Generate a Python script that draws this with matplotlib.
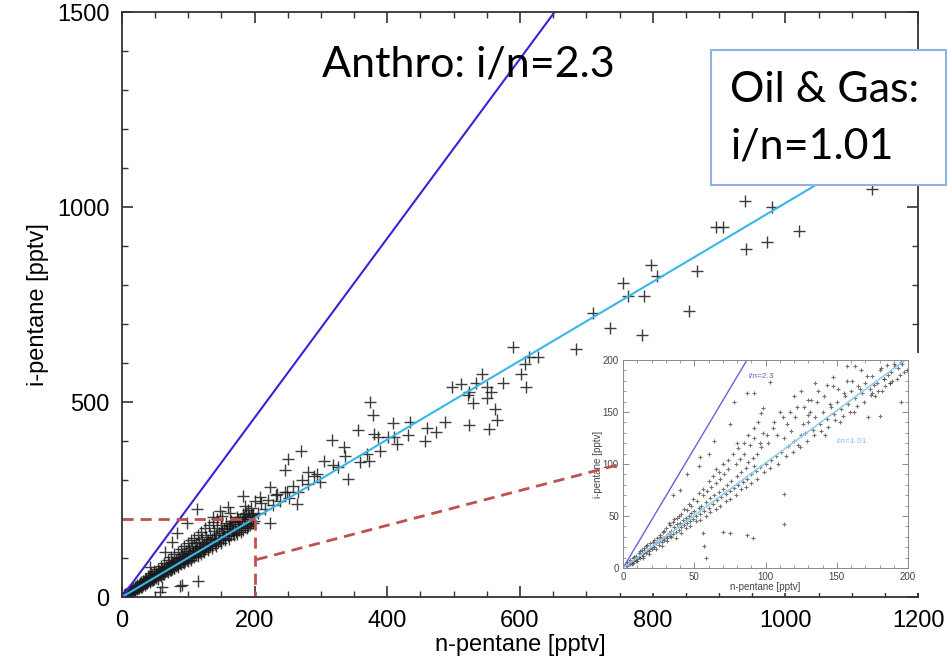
import matplotlib.pyplot as plt
from matplotlib.patches import Rectangle
from matplotlib.lines import Line2D
from matplotlib.ticker import MultipleLocator

# n-pentane / i-pentane mixing ratios [pptv]
n_pentane = [
    3, 5, 6, 8, 9, 10, 12, 13, 14, 15, 16, 18, 19, 20, 21, 22, 24, 25, 26, 27,
    28, 30, 31, 32, 33, 35, 36, 37, 38, 40, 41, 42, 43, 45, 46, 47, 48, 50, 51, 52,
    53, 55, 56, 57, 58, 60, 61, 62, 63, 65, 66, 67, 68, 70, 71, 72, 73, 75, 76, 77,
    78, 80, 81, 82, 83, 85, 86, 87, 88, 90, 91, 92, 93, 95, 96, 97, 98, 100, 101, 102,
    103, 105, 106, 107, 108, 110, 111, 112, 113, 115, 116, 117, 118, 120, 121, 122, 124, 125, 126, 128,
    129, 130, 132, 133, 135, 136, 138, 139, 140, 142, 143, 145, 146, 148, 150, 151, 152, 154, 155, 157,
    158, 160, 162, 164, 165, 167, 168, 170, 172, 174, 175, 177, 178, 180, 182, 184, 185, 187, 189, 190,
    192, 194, 195, 197, 199,
    4, 6, 7, 9, 11, 12, 14, 16, 17, 19, 21, 23, 23, 26, 27, 29, 30, 32, 34, 34,
    36, 39, 39, 42, 44, 44, 47, 49, 49, 52, 54, 54, 57, 59, 59, 62, 64, 64, 67, 69,
    69, 72, 74, 74, 77, 79, 79, 82, 84, 84, 86, 89, 89, 92, 94, 94, 97, 99, 99, 102,
    104, 104, 107, 109, 109, 112, 114, 114, 117, 119, 119, 122, 124, 125, 127, 129, 131, 133, 135, 137,
    140, 142, 144, 146, 149, 151, 153, 156, 159, 161, 163, 166, 169, 171, 173, 176, 179, 181, 183, 186,
    188, 191, 193, 196, 198,
    115, 87, 57, 90, 60, 98, 75, 83, 65, 42, 113, 137, 148, 160, 175, 190, 163, 182, 185, 200,
    208, 223, 234, 249, 223, 205, 210, 215, 220, 228, 232, 238, 245, 252, 258, 264, 271, 265, 280, 290,
    246, 250, 270, 294, 299, 280, 304, 316, 318, 326, 335, 336, 341, 359, 369, 374, 389, 380, 356, 372,
    378, 386, 401, 409, 414, 434, 431, 457, 410, 460, 474, 487, 498, 511, 523, 521, 534, 543, 551, 557,
    551, 529, 563, 566, 554, 523, 575, 589, 602, 609, 607, 614, 627, 684, 710, 736, 755, 763, 787, 784,
    798, 807, 855, 867, 896, 906, 939, 941, 973, 1020, 1131, 980,
]
i_pentane = [
    4, 6, 9, 7, 12, 10, 15, 11, 18, 14, 20, 17, 25, 19, 23, 28, 22, 30, 27, 35,
    26, 33, 40, 30, 37, 34, 45, 39, 36, 44, 52, 40, 48, 43, 57, 50, 46, 55, 62, 49,
    58, 53, 66, 61, 56, 65, 72, 59, 69, 63, 78, 71, 66, 76, 85, 69, 80, 73, 90, 82,
    75, 87, 96, 79, 91, 83, 101, 94, 86, 98, 110, 89, 103, 93, 118, 106, 95, 108, 125, 99,
    113, 103, 130, 117, 105, 120, 138, 108, 126, 112, 140, 128, 115, 131, 150, 118, 136, 122, 155, 140,
    125, 145, 160, 130, 150, 133, 170, 152, 137, 158, 178, 142, 165, 145, 185, 170, 149, 175, 152, 190,
    178, 157, 182, 160, 196, 186, 165, 192, 168, 205, 195, 172, 200, 176, 212, 205, 180, 215, 186, 222,
    208, 190, 228, 214, 195,
    7, 5, 11, 9, 13, 18, 13, 17, 24, 16, 26, 21, 31, 24, 29, 38, 27, 36, 31, 46,
    35, 41, 55, 38, 47, 62, 43, 52, 68, 53, 47, 72, 64, 54, 80, 66, 60, 88, 76, 64,
    95, 78, 70, 102, 86, 74, 110, 90, 78, 115, 92, 84, 122, 100, 88, 132, 104, 92, 138, 112,
    96, 145, 114, 102, 152, 118, 106, 160, 122, 110, 168, 127, 115, 176, 132, 120, 185, 138, 125, 192,
    146, 132, 200, 152, 138, 208, 160, 146, 168, 150, 215, 175, 158, 182, 162, 188, 168, 196, 172, 200,
    178, 205, 184, 210, 190,
    41, 28, 13, 31, 26, 191, 140, 165, 116, 78, 225, 204, 220, 230, 199, 181, 181, 259, 233, 246,
    256, 282, 264, 269, 191, 215, 240, 225, 250, 236, 262, 245, 270, 255, 284, 238, 300, 270, 290, 310,
    326, 354, 375, 315, 295, 320, 349, 403, 339, 334, 385, 362, 302, 346, 367, 499, 375, 419, 429, 349,
    468, 411, 411, 447, 393, 450, 416, 401, 411, 434, 422, 450, 538, 545, 525, 519, 548, 571, 538, 525,
    510, 497, 481, 453, 432, 442, 550, 641, 571, 538, 597, 615, 615, 636, 729, 690, 804, 773, 773, 672,
    852, 822, 734, 835, 949, 949, 1016, 892, 910, 939, 1047, 1000,
]

# zoomed view of the 0-200 pptv range
inset_n = [
    2, 3, 4, 5, 5, 6, 7, 7, 8, 9, 9, 10, 11, 11, 12, 13, 13, 14, 15, 15,
    16, 17, 17, 18, 19, 19, 20, 21, 22, 22, 23, 24, 25, 25, 26, 27, 28, 28, 29, 30,
    30, 31, 32, 33, 33, 34, 35, 35, 36, 37, 38, 38, 39, 40, 41, 41, 42, 43, 44, 45,
    45, 46, 47, 48, 48, 49, 50, 51, 52, 53, 54, 55, 56, 57, 58, 59, 60, 61, 62, 63,
    64, 65, 66, 67, 68, 69, 70, 71, 72, 73, 74, 75, 76, 78, 79, 80, 81, 82, 83, 84,
    85, 86, 87, 88, 89, 90, 91, 92, 93, 94, 95, 96, 97, 98, 100, 102, 104, 105, 107, 108,
    110, 111, 113, 115, 116, 118, 120, 121, 123, 125, 127, 128, 130, 132, 133, 135, 137, 138, 140, 142,
    143, 145, 147, 148, 150, 152, 153, 155, 157, 158, 160, 162, 163, 165, 167, 168, 170, 172, 173, 175,
    177, 178, 180, 182, 183, 185, 187, 188, 190, 192, 193, 195, 197,
    3, 6, 8, 10, 12, 14, 16, 18, 21, 23, 26, 27, 29, 31, 32, 34, 36, 37, 39, 41,
    43, 44, 46, 47, 49, 51, 53, 54, 56, 58, 60, 61, 63, 65, 67, 68, 70, 72, 74, 75,
    77, 79, 81, 83, 85, 86, 88, 90, 92, 94, 96, 99, 101, 103, 106, 109, 112, 114, 117, 119,
    122, 124, 126, 129, 131, 134, 136, 139, 141, 144, 146, 149, 151, 154, 156, 159, 161, 164, 166, 169,
    171, 174, 176, 179, 181, 184, 186, 189, 191, 194, 196, 199,
    157, 163, 103, 87, 92, 78, 75, 98, 97, 64, 54, 53, 92, 113, 87, 91, 70, 75, 56, 57,
    58, 113, 180, 175, 187, 183, 147, 143, 130, 130, 60, 45, 40, 35, 65, 80, 120, 125, 135, 195,
]
inset_i = [
    3, 2, 5, 4, 8, 6, 5, 10, 8, 7, 12, 9, 11, 14, 10, 13, 17, 12, 15, 19,
    14, 17, 22, 16, 19, 24, 18, 21, 27, 20, 24, 29, 22, 26, 32, 25, 29, 35, 27, 31,
    38, 29, 34, 41, 31, 36, 33, 44, 39, 35, 42, 48, 37, 43, 39, 52, 46, 41, 48, 56,
    43, 50, 45, 53, 60, 47, 55, 50, 64, 58, 52, 60, 70, 55, 63, 74, 58, 67, 78, 62,
    70, 82, 65, 73, 86, 68, 76, 90, 71, 80, 95, 74, 84, 77, 100, 88, 80, 105, 92, 83,
    110, 96, 86, 102, 118, 90, 106, 125, 93, 110, 140, 97, 116, 130, 100, 120, 104, 135, 108, 128,
    150, 112, 125, 138, 117, 132, 122, 145, 118, 128, 155, 130, 140, 162, 133, 145, 170, 138, 150, 128,
    143, 158, 175, 148, 160, 140, 153, 168, 180, 158, 170, 150, 163, 175, 190, 168, 178, 145, 172, 185,
    165, 178, 190, 170, 182, 195, 178, 188, 196, 182, 192, 198, 188,
    6, 4, 11, 7, 16, 10, 21, 13, 25, 18, 30, 21, 36, 26, 43, 30, 47, 29, 50, 34,
    57, 38, 62, 40, 66, 45, 72, 46, 76, 50, 84, 54, 88, 57, 92, 60, 100, 64, 104, 66,
    110, 70, 115, 76, 120, 78, 128, 82, 135, 86, 120, 92, 128, 96, 140, 100, 145, 108, 150, 112,
    155, 116, 138, 122, 150, 128, 160, 132, 165, 136, 155, 142, 172, 146, 165, 150, 180, 156, 172, 160,
    185, 166, 176, 170, 192, 175, 186, 180, 194, 186, 196, 190,
    194, 194, 179, 168, 168, 160, 138, 154, 149, 122, 107, 98, 98, 71, 32, 29, 35, 34, 34, 21,
    10, 42, 146, 168, 178, 182, 184, 176, 162, 147, 110, 90, 75, 70, 95, 120, 165, 170, 178, 160,
]

anthro_ratio = 2.3
oil_gas_ratio = 1.01

plt.rcParams['font.family'] = ['Liberation Sans', 'DejaVu Sans']

fig = plt.figure(figsize=(9.47, 6.63), dpi=100)
ax = fig.add_axes([0.1288, 0.0995, 0.8406, 0.8824])

ax.plot(n_pentane, i_pentane, linestyle='none', marker='+', ms=9, mew=1.0,
        color='#1a1a1a', alpha=0.85)
xl = [0, 1200]
ax.plot(xl, [anthro_ratio * v for v in xl], color='#3d1fdc', lw=1.5)
ax.plot(xl, [oil_gas_ratio * v for v in xl], color='#38b6ec', lw=1.5)

# dashed box around the zoomed region
red = '#c0504d'
ax.plot([0, 200], [200, 200], color=red, lw=2, ls=(0, (4, 2.5)))
ax.plot([200, 200], [200, 0], color=red, lw=2, ls=(0, (4, 2.5)))

ax.set_xlim(0, 1200)
ax.set_ylim(0, 1500)
ax.xaxis.set_major_locator(MultipleLocator(200))
ax.xaxis.set_minor_locator(MultipleLocator(50))
ax.yaxis.set_major_locator(MultipleLocator(500))
ax.yaxis.set_minor_locator(MultipleLocator(100))
ax.tick_params(which='both', direction='in', top=True, right=True,
               color='#333333', labelsize=17, pad=9)
ax.tick_params(which='major', length=8, width=1.2)
ax.tick_params(which='minor', length=4, width=1.0)
for s in ax.spines.values():
    s.set_color('#333333')
    s.set_linewidth(1.3)
ax.set_xlabel('n-pentane [pptv]', fontsize=17, labelpad=2)
ax.set_ylabel('i-pentane [pptv]', fontsize=17, labelpad=6)

# white panel behind the inset
fig.add_artist(Rectangle((0.629, 0.105), 0.371, 0.363, transform=fig.transFigure,
                         facecolor='white', edgecolor='none', zorder=1))

axin = fig.add_axes([0.6579, 0.1433, 0.301, 0.3137], zorder=2)
axin.plot(inset_n, inset_i, linestyle='none', marker='+', ms=3.5, mew=0.8,
          color='#444444', alpha=0.75)
xi = [0, 200]
axin.plot(xi, [anthro_ratio * v for v in xi], color='#6f5fd6', lw=1.0)
axin.plot(xi, [oil_gas_ratio * v for v in xi], color='#8fd0f0', lw=1.2)
axin.text(88, 183, 'i/n=2.3', color='#6a5acd', fontsize=6)
axin.text(150, 120, 'i/n=1.01', color='#7cc8ee', fontsize=6)
axin.set_xlim(0, 200)
axin.set_ylim(0, 200)
axin.xaxis.set_major_locator(MultipleLocator(50))
axin.xaxis.set_minor_locator(MultipleLocator(10))
axin.yaxis.set_major_locator(MultipleLocator(50))
axin.yaxis.set_minor_locator(MultipleLocator(10))
axin.tick_params(which='both', direction='in', top=True, right=True,
                 color='#777777', labelcolor='#444444', labelsize=7, pad=3)
axin.tick_params(which='major', length=4, width=0.6)
axin.tick_params(which='minor', length=2, width=0.5)
for s in axin.spines.values():
    s.set_color('#888888')
    s.set_linewidth(0.7)
axin.set_xlabel('n-pentane [pptv]', fontsize=7, color='#444444', labelpad=0)
axin.set_ylabel('i-pentane [pptv]', fontsize=7, color='#444444', labelpad=0)

# connector from the dashed box to the inset
fig.add_artist(Line2D([203, 748], [96, 339], transform=ax.transData,
                      color=red, lw=2, ls=(0, (4, 2.5)), zorder=5))

fig.text(0.340, 0.902, 'Anthro: i/n=2.3', fontsize=31, family=['Lato', 'DejaVu Sans'],
         va='center', ha='left')
fig.add_artist(Rectangle((0.7508, 0.721), 0.2482, 0.2036, transform=fig.transFigure,
                         facecolor='white', edgecolor='#8db3e2', lw=1.5, zorder=3))
fig.text(0.771, 0.822, 'Oil & Gas:\ni/n=1.01', fontsize=31, family=['Lato', 'DejaVu Sans'],
         va='center', ha='left', linespacing=1.6, zorder=4)

fig.savefig('out.png', dpi=100)
